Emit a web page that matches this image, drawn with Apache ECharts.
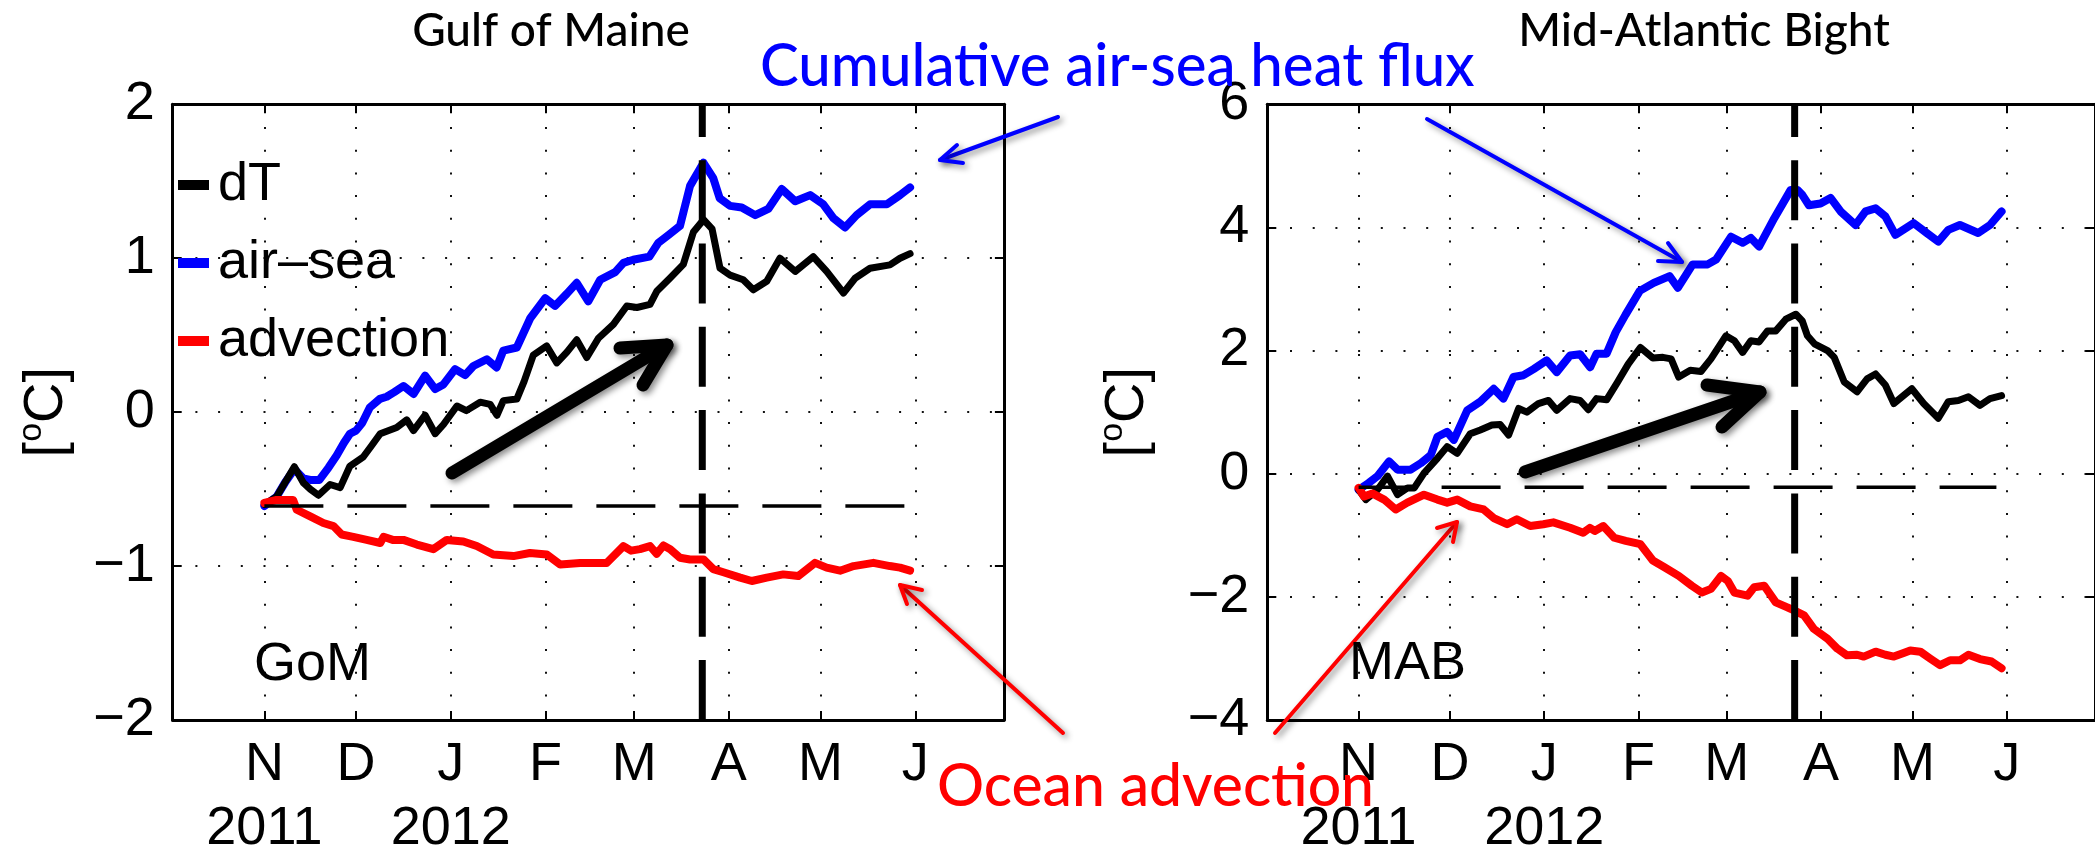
<!DOCTYPE html>
<html>
<head>
<meta charset="utf-8">
<script src="https://cdn.jsdelivr.net/npm/echarts@6/dist/echarts.min.js"></script>
<style>
  html, body { margin: 0; padding: 0; background: #fff; }
  #chart { width: 2095px; height: 861px; }
</style>
</head>
<body>
<div id="chart"></div>
<script>
// Time is counted in days from 1 Nov 2011.
const dayMin = -30;               // 2 Oct 2011
const dayMax = 242;               // 30 Jun 2012
const monthTicks = [0, 30, 61, 92, 121, 152, 182, 213];
const monthLabels = ['N', 'D', 'J', 'F', 'M', 'A', 'M', 'J'];
const yearLabels = { 0: '2011', 61: '2012' };
const eventDay = 143.3;           // 23 Mar 2012, the warm event
const baselineEnd = 209.6;

// Gulf of Maine: cumulative temperature change terms [day, degC]
const gomAirSea = [[0,-0.61],[4,-0.55],[7,-0.45],[9.8,-0.37],[12.7,-0.43],[15,-0.44],[18,-0.44],[21,-0.36],[23.7,-0.28],[26,-0.2],[28,-0.14],[30,-0.12],[32,-0.07],[34.5,0.03],[37.8,0.086],[40,0.1],[42.5,0.13],[45.5,0.17],[48.8,0.118],[52.6,0.237],[55.9,0.15],[58.6,0.18],[62.4,0.28],[65.7,0.24],[68.4,0.30],[72.8,0.344],[76,0.29],[78.2,0.40],[82.6,0.42],[87,0.61],[91.9,0.74],[95.1,0.69],[99,0.77],[102.2,0.84],[106,0.72],[109.9,0.86],[114.8,0.91],[117.5,0.97],[120.7,0.99],[126,1.01],[128.9,1.10],[132.2,1.15],[136,1.21],[139.3,1.47],[143.7,1.62],[146.9,1.52],[149,1.39],[152.4,1.34],[156.2,1.33],[160.6,1.28],[164.9,1.32],[169.3,1.45],[173.7,1.37],[178.6,1.41],[182.9,1.35],[186.2,1.26],[190,1.20],[193.8,1.28],[198.2,1.35],[203.7,1.35],[208,1.41],[211.3,1.46]];
const gomDT = [[0,-0.6],[4,-0.55],[9.8,-0.355],[12.8,-0.46],[15,-0.5],[17.7,-0.54],[21.5,-0.47],[24.8,-0.49],[28,-0.35],[32.4,-0.29],[35,-0.22],[37.9,-0.14],[43.3,-0.10],[46.6,-0.05],[48.8,-0.12],[52.6,-0.02],[55.9,-0.14],[58.6,-0.08],[63,0.04],[66.1,0.01],[70.6,0.065],[73.9,0.05],[76.1,-0.02],[78.2,0.075],[82.6,0.085],[85,0.2],[88,0.37],[92.4,0.43],[95.7,0.32],[99,0.39],[102.2,0.47],[105.5,0.355],[109.3,0.48],[114.2,0.57],[118.6,0.69],[121.9,0.68],[126.2,0.70],[128.4,0.785],[132.7,0.87],[137.1,0.96],[140.4,1.17],[143.7,1.25],[146.5,1.19],[149.1,0.935],[152.4,0.89],[156.7,0.86],[160,0.795],[164.4,0.85],[168.7,1.0],[173.7,0.914],[179.6,1.01],[184,0.914],[189.5,0.774],[193.3,0.87],[198.2,0.935],[204.7,0.957],[208,1.0],[211.3,1.03]];
const gomAdvection = [[0,-0.59],[4,-0.57],[9.4,-0.57],[10.6,-0.634],[15,-0.677],[19.3,-0.72],[22.6,-0.74],[25.3,-0.795],[29.1,-0.81],[33.5,-0.83],[37.9,-0.85],[39,-0.81],[42,-0.83],[45.5,-0.83],[49.9,-0.86],[55.3,-0.89],[59.7,-0.83],[65.1,-0.84],[69.5,-0.87],[74.9,-0.925],[81.5,-0.935],[86.9,-0.915],[92.4,-0.925],[96.8,-0.99],[103.3,-0.98],[112,-0.98],[117.5,-0.87],[120,-0.9],[122.9,-0.89],[126.2,-0.87],[128.4,-0.92],[130.6,-0.866],[132.8,-0.89],[136,-0.946],[139.3,-0.957],[143.7,-0.957],[146.9,-1.02],[150.2,-1.04],[155.7,-1.075],[159.5,-1.097],[164.4,-1.075],[169.8,-1.054],[174.7,-1.065],[180.2,-0.979],[184,-1.01],[188.4,-1.03],[192.8,-1.0],[199.3,-0.979],[204.7,-1.0],[208,-1.01],[211.3,-1.03]];
const gomBaseline = -0.61;

// Mid-Atlantic Bight: cumulative temperature change terms [day, degC]
const mabAirSea = [[0,-0.26],[3.3,-0.15],[6.2,-0.04],[10,0.2],[12.8,0.065],[17.1,0.065],[20.4,0.17],[23.7,0.3],[25.9,0.60],[29.1,0.68],[31.3,0.55],[35.7,1.03],[40,1.17],[44.4,1.38],[47.6,1.22],[50.9,1.57],[54.2,1.60],[57.5,1.70],[61.8,1.84],[65.1,1.65],[69.5,1.92],[72.8,1.94],[76.1,1.73],[78.2,1.95],[81.5,1.95],[84.5,2.3],[87.7,2.58],[92.4,2.97],[97,3.1],[102.2,3.21],[104.9,3.02],[109.8,3.40],[114.7,3.40],[117.5,3.48],[122.4,3.85],[126.2,3.75],[128.9,3.83],[131.6,3.69],[136.6,4.15],[142,4.61],[144.2,4.61],[145.8,4.53],[148,4.36],[151.8,4.39],[155.1,4.48],[158.4,4.26],[163.3,4.04],[166.6,4.26],[169.9,4.31],[173.1,4.18],[176.4,3.88],[182.4,4.07],[186.7,3.91],[190.5,3.77],[193.8,3.96],[197.6,4.04],[203.6,3.91],[207.5,4.04],[211.3,4.26]];
const mabDT = [[0,-0.26],[2.4,-0.42],[6.2,-0.26],[9.5,-0.04],[12.8,-0.34],[16.1,-0.23],[18.3,-0.23],[21.5,0.01],[25.9,0.25],[29.1,0.44],[32.4,0.33],[36.7,0.65],[40,0.71],[43.8,0.79],[46.5,0.8],[49.3,0.63],[52.6,1.06],[55.3,1.0],[59.1,1.14],[62.4,1.19],[65.1,1.03],[69.5,1.22],[72.8,1.19],[75.5,1.04],[78.2,1.22],[81.5,1.2],[85,1.48],[88.6,1.78],[92.6,2.05],[96.7,1.88],[100,1.89],[102.7,1.865],[105.2,1.57],[109,1.68],[112.5,1.66],[115.8,1.865],[120.7,2.24],[123.5,2.16],[126.2,1.97],[128.9,2.16],[131.6,2.14],[134.4,2.32],[137.1,2.32],[140.4,2.51],[143.7,2.59],[145.8,2.48],[147.5,2.24],[149.8,2.11],[154.1,2.0],[156.3,1.89],[159.6,1.49],[163.8,1.33],[167.1,1.54],[169.9,1.62],[173.1,1.44],[175.9,1.14],[181.8,1.38],[185.7,1.14],[190.5,0.90],[193.8,1.17],[197.1,1.19],[200.4,1.25],[204.2,1.11],[207.5,1.22],[211.3,1.27]];
const mabAdvection = [[0,-0.23],[1.8,-0.37],[4.5,-0.32],[8.4,-0.42],[12.2,-0.58],[16,-0.47],[21.5,-0.34],[25.9,-0.42],[29.1,-0.47],[32.4,-0.42],[36.7,-0.53],[41.1,-0.58],[44.4,-0.72],[48.8,-0.82],[52,-0.74],[56.4,-0.85],[60.7,-0.82],[64,-0.79],[69.5,-0.877],[73.8,-0.96],[76,-0.88],[77.6,-0.93],[80.4,-0.85],[84,-1.04],[87.8,-1.09],[92.6,-1.145],[96.7,-1.41],[100.5,-1.52],[105.2,-1.66],[109.5,-1.82],[112.8,-1.93],[115.8,-1.87],[119.1,-1.66],[121.3,-1.74],[123.5,-1.93],[127.8,-1.98],[130,-1.845],[133.3,-1.82],[137.1,-2.09],[140.9,-2.17],[143.1,-2.22],[146.4,-2.30],[149.6,-2.52],[154.1,-2.68],[157.3,-2.84],[160.5,-2.95],[163.8,-2.94],[166,-2.97],[169.9,-2.89],[173.1,-2.94],[175.9,-2.97],[179.1,-2.91],[181.3,-2.87],[184.6,-2.89],[187.8,-3.0],[191.1,-3.11],[194.4,-3.03],[197.6,-3.03],[200.4,-2.94],[204.2,-3.01],[208,-3.05],[211.3,-3.16]];
const mabBaseline = -0.22;

const gomY = { min: -2, max: 2, interval: 1 };
const mabY = { min: -4, max: 6, interval: 2 };

const HELV = 'Liberation Sans, Arial, sans-serif';
const GILL = 'Lato, sans-serif';
const BLUE = '#0000ff', RED = '#ff0000', BLACK = '#000000';

const gridTop = 104.3, gridHeight = 621, gridWidth = 831.2;
const grids = [
  { left: 172.7, top: gridTop, width: gridWidth, height: gridHeight },
  { left: 1267.3, top: gridTop, width: gridWidth, height: gridHeight }
];

const dotted = { color: '#111', width: 2, type: [2, 20.7] };
const frame = { color: BLACK, width: 3 };

function monthLabel(v) {
  const i = monthTicks.indexOf(v);
  const m = i >= 0 ? monthLabels[i] : '';
  return yearLabels[v] ? m + '\n' + yearLabels[v] : m;
}
function signed(v) { return v < 0 ? '\u2212' + Math.abs(v) : String(v); }

function xAxes(gi) {
  return [
    { type: 'value', gridIndex: gi, position: 'bottom', min: dayMin, max: dayMax,
      axisLine: { show: true, onZero: false, lineStyle: frame },
      axisTick: { show: true, inside: true, length: 9, customValues: monthTicks, lineStyle: { color: BLACK, width: 2 } },
      axisLabel: { show: true, customValues: monthTicks, formatter: monthLabel, margin: 13,
        fontFamily: HELV, fontSize: 54, lineHeight: 64, color: BLACK },
      splitLine: { show: true, lineStyle: dotted } },
    { type: 'value', gridIndex: gi, position: 'top', min: dayMin, max: dayMax,
      axisLine: { show: true, onZero: false, lineStyle: frame },
      axisTick: { show: true, inside: true, length: 9, customValues: monthTicks, lineStyle: { color: BLACK, width: 2 } },
      axisLabel: { show: false }, splitLine: { show: false } }
  ];
}
function yAxes(gi, range, nameGap) {
  return [
    { type: 'value', gridIndex: gi, position: 'left', min: range.min, max: range.max, interval: range.interval,
      axisLine: { show: true, onZero: false, lineStyle: frame },
      axisTick: { show: true, inside: true, length: 9, lineStyle: { color: BLACK, width: 2 } },
      axisLabel: { show: true, formatter: signed, margin: 18, fontFamily: HELV, fontSize: 54, color: BLACK },
      splitLine: { show: true, lineStyle: dotted },
      name: '[{s|o}C]', nameLocation: 'middle', nameRotate: 90, nameGap: nameGap,
      nameTextStyle: { fontFamily: HELV, fontSize: 56, color: BLACK, lineHeight: 64,
        rich: { s: { fontFamily: HELV, fontSize: 34, color: BLACK, lineHeight: 40, verticalAlign: 'top' } } } },
    { type: 'value', gridIndex: gi, position: 'right', min: range.min, max: range.max, interval: range.interval,
      axisLine: { show: true, onZero: false, lineStyle: frame },
      axisTick: { show: true, inside: true, length: 9, lineStyle: { color: BLACK, width: 2 } },
      axisLabel: { show: false }, splitLine: { show: false } }
  ];
}

function curve(name, data, color, gi, z, width) {
  return { type: 'line', name: name, xAxisIndex: gi * 2, yAxisIndex: gi * 2, data: data,
    showSymbol: false, symbol: 'none', z: z, silent: true,
    itemStyle: { color: color },
    lineStyle: { color: color, width: width, cap: 'round', join: 'round' } };
}
function guide(name, data, gi, width, dash) {
  return { type: 'line', name: name, xAxisIndex: gi * 2, yAxisIndex: gi * 2, data: data,
    showSymbol: false, symbol: 'none', z: 10, silent: true,
    itemStyle: { color: BLACK },
    lineStyle: { color: BLACK, width: width, type: dash, cap: 'butt' } };
}

const series = [
  curve('air\u2013sea', gomAirSea, BLUE, 0, 3, 8),
  curve('dT', gomDT, BLACK, 0, 4, 7),
  curve('advection', gomAdvection, RED, 0, 5, 8),
  guide('gom-baseline', [[0, gomBaseline], [baselineEnd, gomBaseline]], 0, 3.5, [59, 24]),
  guide('gom-event', [[eventDay, gomY.min], [eventDay, gomY.max]], 0, 7, [60, 23.3]),
  curve('mab-air-sea', mabAirSea, BLUE, 1, 3, 8),
  curve('mab-dT', mabDT, BLACK, 1, 4, 7),
  curve('mab-advection', mabAdvection, RED, 1, 5, 8),
  guide('mab-baseline', [[0, mabBaseline], [baselineEnd, mabBaseline]], 1, 3.5, [59, 24]),
  guide('mab-event', [[eventDay, mabY.min], [eventDay, mabY.max]], 1, 7, [60, 23.3])
];

// Annotation arrows: shaft start, tip, and the two barb ends (page pixels)
const shade = { shadowBlur: 6, shadowColor: 'rgba(0,0,0,0.45)', shadowOffsetX: 3, shadowOffsetY: 3 };
function arrow(from, tip, barbA, barbB, color, width) {
  const style = Object.assign({ stroke: color, lineWidth: width, fill: null, lineCap: 'round', lineJoin: 'round' }, shade);
  return [
    { type: 'polyline', z: 100, silent: true, shape: { points: [from, tip] }, style: style },
    { type: 'polyline', z: 100, silent: true, shape: { points: [barbA, tip, barbB] }, style: style }
  ];
}
function label(text, x, y, font, color, align, scaleX) {
  return { type: 'text', x: x, y: y, z: 101, silent: true, scaleX: scaleX || 1, scaleY: 1,
    style: { text: text, font: font, fill: color, align: align, verticalAlign: 'middle' } };
}

const graphics = [].concat(
  label('Gulf of Maine', 551, 31, '500 46px ' + GILL, BLACK, 'center'),
  label('Mid-Atlantic Bight', 1704, 31, '500 46px ' + GILL, BLACK, 'center'),
  label('Cumulative air-sea heat flux', 760, 67, '500 60px ' + GILL, BLUE, 'left', 0.97),
  label('Ocean advection', 937, 787, '500 60px ' + GILL, RED, 'left', 0.98),
  label('GoM', 254, 665, '54px ' + HELV, BLACK, 'left'),
  label('MAB', 1349, 664, '54px ' + HELV, BLACK, 'left'),
  arrow([452, 473], [667, 345], [620, 348], [643, 385], BLACK, 13),
  arrow([1525, 472], [1760, 392], [1707, 385], [1722, 427], BLACK, 13),
  arrow([1058, 117], [940, 160], [957, 145], [963, 163], BLUE, 4),
  arrow([1427, 119], [1682, 262], [1668, 243], [1658, 261], BLUE, 4),
  arrow([1063, 733], [900, 585], [907, 604], [922, 590], RED, 4),
  arrow([1275, 733], [1457, 522], [1437, 528], [1453, 542], RED, 4)
);

const chart = echarts.init(document.getElementById('chart'), null, { renderer: 'canvas' });
chart.setOption({
  animation: false,
  backgroundColor: '#ffffff',
  grid: grids,
  xAxis: xAxes(0).concat(xAxes(1)),
  yAxis: yAxes(0, gomY, 94).concat(yAxes(1, mabY, 108)),
  legend: {
    data: ['dT', 'air\u2013sea', 'advection'],
    orient: 'vertical', left: 173, top: 150, padding: 5,
    icon: 'rect', itemWidth: 31, itemHeight: 10, itemGap: 18,
    selectedMode: false,
    textStyle: { fontFamily: HELV, fontSize: 54, color: BLACK, lineHeight: 60, padding: [0, 0, 0, 4] }
  },
  series: series,
  graphic: graphics
});
</script>
</body>
</html>
